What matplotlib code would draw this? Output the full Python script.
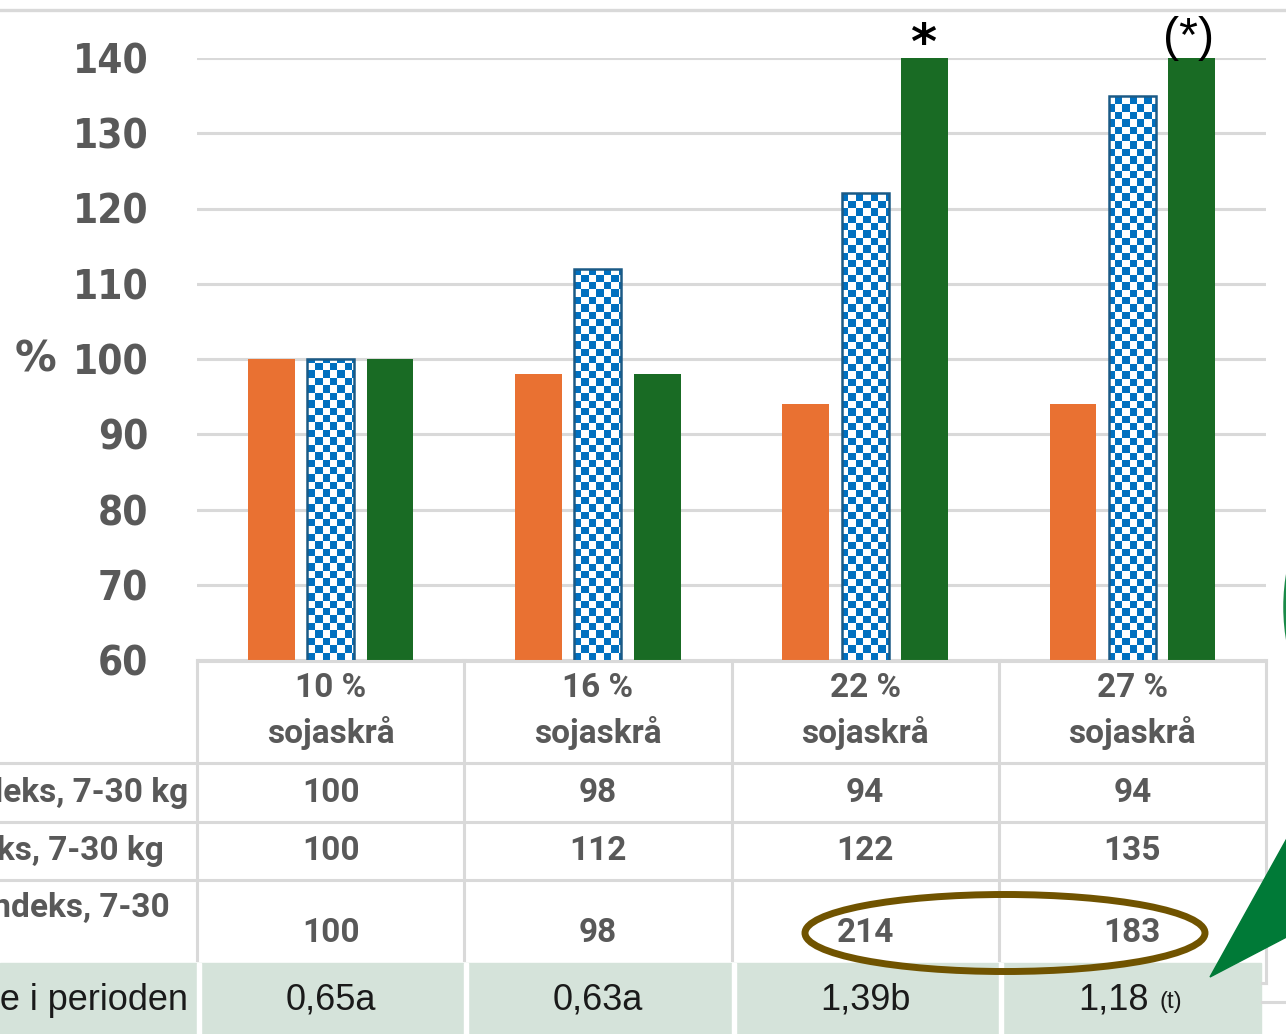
import numpy as np
import matplotlib
matplotlib.use("Agg")
import matplotlib.pyplot as plt
from matplotlib.colors import ListedColormap
from matplotlib.patches import Ellipse, Polygon, Rectangle

# data
categories = ["10 %\nsojaskrå", "16 %\nsojaskrå", "22 %\nsojaskrå", "27 %\nsojaskrå"]
feed_index = [100, 98, 94, 94]
gain_index = [100, 112, 122, 135]
diarrhea_index = [100, 98, 214, 183]
sig_marks = ["", "", "*", "(*)"]
row_labels = ["Fôropptaksindeks, 7-30 kg", "Tilvekstindeks, 7-30 kg",
              "Diaréindeks, 7-30\nkg", "Gjennomsnittlig diaréscore i perioden"]
period_values = ["0,65a", "0,63a", "1,39b", "1,18"]
period_notes = ["", "", "", "(t)"]
yticks = [60, 70, 80, 90, 100, 110, 120, 130, 140]

ORANGE = "#e97132"
BLUE = "#0070c0"
BLUE_EDGE = "#1b5a86"
GREEN = "#196b24"
GRID = "#d9d9d9"
TXT = "#595959"

W, H = 1286, 1034
fig = plt.figure(figsize=(W / 100, H / 100), dpi=100)

def fx(p):
    return p / W

def fy(p):
    return 1 - p / H

left, right, top, base = 197, 1266, 58, 660
col_px = (right - left) / 4.0

ax = fig.add_axes([fx(left), fy(base), (right - left) / W, (base - top) / H])
x = np.arange(len(categories))
bw = 0.175
off = 0.222

ax.bar(x - off, feed_index, bw, color=ORANGE, zorder=3)
gbars = ax.bar(x, gain_index, bw, facecolor="none", edgecolor=BLUE_EDGE, linewidth=1.8, zorder=4)
ax.bar(x + off, diarrhea_index, bw, color=GREEN, zorder=3)

# checker fill for the middle bars
cell = 7.4
nx = int((right - left) / cell) + 2
ny = int((base - top) / cell) + 2
checker = np.add.outer(np.arange(ny), np.arange(nx)) % 2
cmap = ListedColormap(["white", BLUE])
ext = (-0.5, -0.5 + nx * cell / col_px, 60, 60 + ny * cell / ((base - top) / 80))
for b in gbars:
    im = ax.imshow(checker, cmap=cmap, extent=ext, aspect="auto",
                   interpolation="nearest", origin="lower", zorder=3)
    im.set_clip_path(b)

ax.set_xlim(-0.5, 3.5)
ax.set_ylim(60, 140)
ax.set_yticks(yticks)
ax.set_yticklabels([str(t) for t in yticks], fontsize=29, fontweight="bold",
                   color=TXT, family="DejaVu Sans", fontstretch="condensed")
ax.set_xticks([])
ax.tick_params(axis="y", length=0, pad=35)
ax.yaxis.grid(True, color=GRID, linewidth=2.2, zorder=0)
ax.set_axisbelow(True)
for s in ax.spines.values():
    s.set_visible(False)

for i, m in enumerate(sig_marks):
    if m == "*":
        ax.annotate(m, (x[i] + off, 140), xytext=(-1, -8), textcoords="offset points",
                    ha="center", va="bottom", fontsize=36, fontweight="bold",
                    family="DejaVu Sans", annotation_clip=False)
    elif m:
        ax.annotate(m, (x[i] + off, 140), xytext=(-2, -2), textcoords="offset points",
                    ha="center", va="bottom", fontsize=35,
                    family="Liberation Sans", annotation_clip=False)

fig.text(fx(35), fy(360), "%", ha="center", va="center", fontsize=30,
         fontweight="bold", color=TXT, family="DejaVu Sans")

# data table under the plot
tax = fig.add_axes([fx(left), 0, (right - left) / W, fy(base)])
tax.set_xlim(-0.5, 3.5)
tax.set_ylim(H, base)
tax.axis("off")

def cx(p):
    return (p - left) / col_px - 0.5

tax.add_patch(Rectangle((cx(0), 963), cx(1261) - cx(0), H - 963, color="#d5e3da",
                        clip_on=False, zorder=0))
edges = np.arange(-0.5, 4.0, 1.0)
for e in edges[:-1]:
    tax.add_patch(Rectangle((e, 963), 4 / col_px, H - 963, color="white",
                            clip_on=False, zorder=1))
for e in edges[:-1]:
    tax.plot([e, e], [base, 960], color=GRID, lw=2.2, clip_on=False, zorder=2)
tax.plot([edges[-1]] * 2, [base, 983], color=GRID, lw=2.2, clip_on=False, zorder=2)
tax.plot([cx(1262), edges[-1]], [983, 983], color=GRID, lw=2.2, clip_on=False)
tax.plot([cx(1262), cx(1290)], [1002, 1002], color=GRID, lw=2.2, clip_on=False)
tax.plot([-0.5, 3.5], [base + 1, base + 1], color=GRID, lw=2.2, clip_on=False)
for yy in [763, 822, 880]:
    tax.plot([cx(0), 3.5], [yy, yy], color=GRID, lw=2.2, clip_on=False)

tfont = dict(family="Roboto", fontweight="bold", color=TXT, fontsize=24)
vfont = dict(family="Liberation Sans", fontsize=26, color="#1a1a1a")
for i in x:
    tax.text(i, 711, categories[i], ha="center", va="center", linespacing=1.45, **tfont)
    tax.text(i, 793, str(feed_index[i]), ha="center", va="center", **tfont)
    tax.text(i, 851, str(gain_index[i]), ha="center", va="center", **tfont)
    tax.text(i, 933, str(diarrhea_index[i]), ha="center", va="center", **tfont)
    if period_notes[i]:
        tax.text(i + 16 / col_px, 1000, period_values[i], ha="right", va="center", **vfont)
        tax.text(i + 27 / col_px, 1002, period_notes[i], ha="left", va="center",
                 family="Liberation Sans", fontsize=17, color="#1a1a1a")
    else:
        tax.text(i, 1000, period_values[i], ha="center", va="center", **vfont)

# row labels (cut off by the left edge, as in the source slide)
tax.text(cx(188), 793, row_labels[0], ha="right", va="center", clip_on=False, **tfont)
tax.text(cx(164), 851, row_labels[1], ha="right", va="center", clip_on=False, **tfont)
tax.text(cx(170), 892, row_labels[2], ha="right", va="top", multialignment="left",
         linespacing=1.2, clip_on=False, **tfont)
tax.text(cx(188), 1000, row_labels[3], ha="right", va="center", clip_on=False, **vfont)

# highlight ellipse and callout
tax.add_patch(Ellipse((cx(1005), 933), 400 / col_px, 77, fill=False,
                      edgecolor="#705300", linewidth=5, clip_on=False, zorder=5))

ov = fig.add_axes([0, 0, 1, 1], zorder=10)
ov.set_xlim(0, W)
ov.set_ylim(H, 0)
ov.axis("off")
ov.plot([0, W], [10, 10], color=GRID, lw=2.4)
ov.add_patch(Polygon([(1210, 977), (1300, 815), (1300, 930)], closed=True,
                     color="#007a37", zorder=3))
ov.add_patch(Ellipse((1485, 607), 400, 400, fill=False, edgecolor="#1a8a48",
                     linewidth=2.5))

fig.savefig("out.png", dpi=100)
